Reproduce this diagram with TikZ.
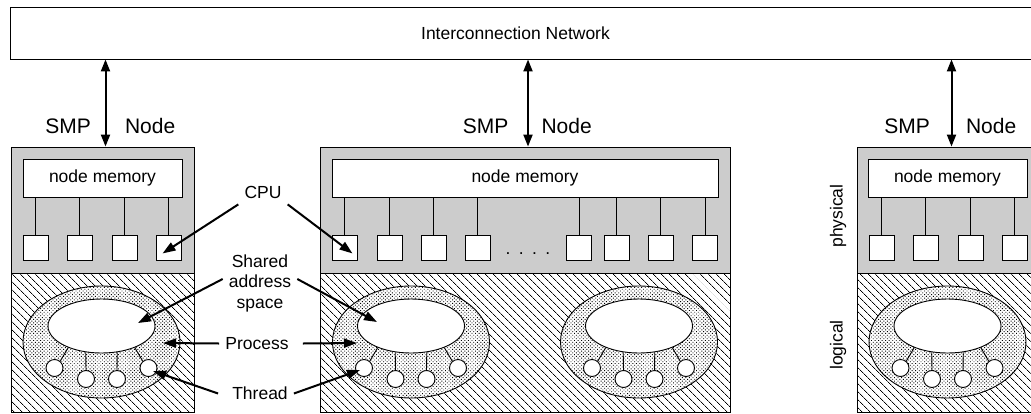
\documentclass[tikz,border=0pt]{standalone}
\usepackage{fontspec}
\setmainfont{Liberation Sans}
\usetikzlibrary{arrows.meta,shapes.geometric,patterns.meta}

\tikzset{
  frame/.style={draw=black,line width=0.9pt},
  physbox/.style={frame,fill=black!20,minimum width=183pt,minimum height=126pt,inner sep=0pt},
  logibox/.style={frame,pattern={Lines[angle=-45,distance=5.4pt,line width=0.65pt]},
    minimum width=183pt,minimum height=139pt,inner sep=0pt},
  membox/.style={frame,fill=white,minimum height=38pt,inner sep=0pt},
  cpubox/.style={frame,fill=white,minimum size=25pt,inner sep=0pt},
  procell/.style={ellipse,frame,preaction={fill=white},
    pattern={Dots[distance=2.5pt,radius=0.65pt,angle=45]},
    minimum width=157pt,minimum height=112pt,inner sep=0pt},
  addrell/.style={ellipse,frame,fill=white,minimum width=107pt,minimum height=54pt,inner sep=0pt},
  thr/.style={circle,frame,fill=white,minimum size=17pt,inner sep=0pt},
  ptr/.style={-{Triangle[length=13pt,width=9pt]},line width=2pt},
  dblptr/.style={{Triangle[length=12pt,width=9pt]}-{Triangle[length=12pt,width=9pt]},line width=2pt},
  lbl/.style={inner sep=6pt,align=center},
}

\begin{document}
\begin{tikzpicture}[x=1pt,y=-1pt,font=\fontsize{17.5}{20.5}\selectfont]
  \useasboundingbox (0,0) rectangle (1031,413);
  \clip (0,0) rectangle (1031,413);

  % Network
  \node[frame,minimum width=1035pt,minimum height=52pt,inner sep=0pt] (net) at (527.5,33) {};
  \node (nettxt) at (515.5,33) {Interconnection Network};

  % SMP node boxes
  \node[physbox] (phys1) at (102.5,210) {};
  \node[logibox] (logi1) at (102.5,342.5) {};
  \node[physbox,minimum width=410pt] (phys2) at (525,210) {};
  \node[logibox,minimum width=410pt] (logi2) at (525,342.5) {};
  \node[physbox] (phys3) at (948.5,210) {};
  \node[logibox] (logi3) at (948.5,342.5) {};

  % Links to the network
  \foreach \i in {1,2,3} {
    \coordinate (a\i) at ([xshift=3pt]phys\i.north);
    \draw[dblptr] (a\i |- net.south) -- (a\i);
  }
  \foreach \ax/\sl/\nl [count=\i] in {105.5/11/16,528/16/10,951.5/18/11} {
    \node[anchor=base east,font=\fontsize{21}{25}\selectfont] (smp\i) at (\ax-\sl,133) {SMP};
    \node[anchor=base west,font=\fontsize{21}{25}\selectfont] (nd\i) at (\ax+\nl,133) {Node};
  }

  % Node memories
  \node[membox,minimum width=159pt] (mem1) at (102.5,178) {node memory};
  \node[membox,minimum width=386pt] (mem2) at (525,178) {node memory};
  \node[membox,minimum width=159pt] (mem3) at (947.5,178) {node memory};

  % CPUs
  \foreach \x [count=\i] in {35.5,79.5,124.5,168.5} {
    \node[cpubox] (c1-\i) at (\x,247.5) {};
    \draw[frame] (c1-\i.north) -- (c1-\i.north |- mem1.south);
  }
  \foreach \x [count=\i] in {344.5,389.5,433.5,477.5,579,616.5,660.5,705} {
    \node[cpubox] (c2-\i) at (\x,247.5) {};
    \draw[frame] (c2-\i.north) -- (c2-\i.north |- mem2.south);
  }
  \foreach \x [count=\i] in {881.5,925.5,970.5,1014.5} {
    \node[cpubox] (c3-\i) at (\x,247.5) {};
    \draw[frame] (c3-\i.north) -- (c3-\i.north |- mem3.south);
  }
  \node[anchor=base] (dots) at (528,254) {.\hspace{8.4pt}.\hspace{8.4pt}.\hspace{8.4pt}.};

  % Processes with their threads
  \foreach \cx [count=\p] in {101.5,411,639,947.5} {
    \node[procell] (out\p) at (\cx,342) {};
    \node[addrell] (in\p) at (\cx,326) {};
    \node[thr] (t\p-1) at (\cx-47,368) {};
    \node[thr] (t\p-2) at (\cx-15.5,379) {};
    \node[thr] (t\p-3) at (\cx+15.5,379) {};
    \node[thr] (t\p-4) at (\cx+47,368) {};
    \draw[frame] (t\p-1.50) -- (in\p.213);
    \draw[frame] (t\p-2.north) -- (in\p.-121);
    \draw[frame] (t\p-3.north) -- (in\p.-59);
    \draw[frame] (t\p-4.130) -- (in\p.-33);
  }

  % Side labels
  \node[rotate=90] (physlbl) at (838,216) {physical};
  \node[rotate=90] (logilbl) at (838,345) {logical};

  % Explanations
  \node[lbl] (lblcpu) at (263,192) {CPU};
  \node[lbl] (lblsas) at (260,283) {Shared\\address\\space};
  \node[lbl] (lblproc) at (257,343.5) {Process};
  \node[lbl] (lblthr) at (260,393.5) {Thread};

  \draw[ptr] (lblcpu.south west) -- ([shift={(7,-7)}]c1-4.south west);
  \draw[ptr] (lblcpu.south east) -- ([shift={(-5,-7)}]c2-1.south east);
  \draw[ptr] ([yshift=4]lblsas.west) -- ([shift={(36.5,-3)}]in1.center);
  \draw[ptr] ([yshift=4]lblsas.east) -- ([shift={(-34,-4)}]in2.center);
  \draw[ptr] (lblproc.west) -- ([shift={(61.5,1)}]out1.center);
  \draw[ptr] ([xshift=8]lblproc.east) -- ([shift={(-54,1)}]out2.center);
  \draw[ptr] ([xshift=-8]lblthr.west) -- ([shift={(4.5,3)}]t1-4.center);
  \draw[ptr] (lblthr.east) -- ([shift={(-4,2)}]t2-1.center);
\end{tikzpicture}
\end{document}
